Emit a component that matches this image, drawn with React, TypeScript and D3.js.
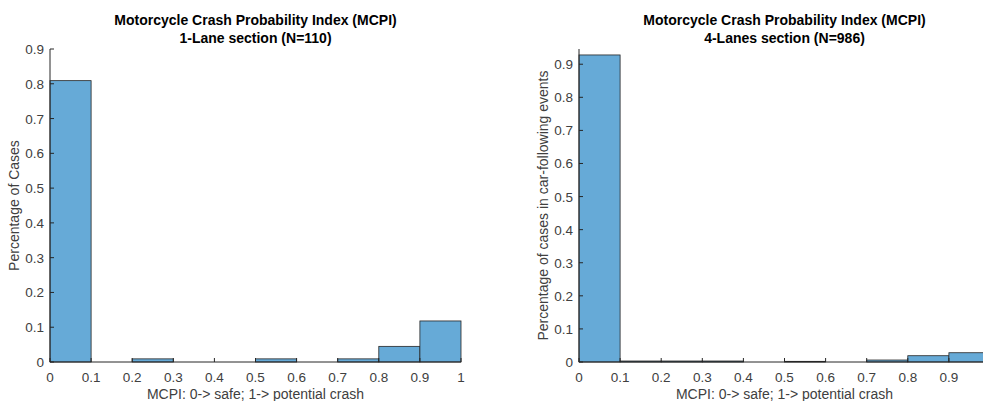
import React from "react";
import * as d3 from "d3";

const binEdges = [0, 0.1, 0.2, 0.3, 0.4, 0.5, 0.6, 0.7, 0.8, 0.9, 1.0];
const oneLaneValues = [0.809, 0, 0.009, 0, 0, 0.009, 0, 0.009, 0.045, 0.118];
const fourLaneValues = [0.928, 0.003, 0.003, 0.003, 0, 0.002, 0, 0.006, 0.019, 0.028];
const xTicks = [0, 0.1, 0.2, 0.3, 0.4, 0.5, 0.6, 0.7, 0.8, 0.9, 1];
const yTicks = [0, 0.1, 0.2, 0.3, 0.4, 0.5, 0.6, 0.7, 0.8, 0.9];
const titleLine1 = "Motorcycle Crash Probability Index (MCPI)";
const leftTitle2 = "1-Lane section (N=110)";
const rightTitle2 = "4-Lanes section (N=986)";
const xLabel = "MCPI: 0-> safe; 1-> potential crash";
const leftYLabel = "Percentage of Cases";
const rightYLabel = "Percentage of cases in car-following events";

const W = 983;
const H = 401;
const FONT = "'Liberation Sans', Arial, Helvetica, sans-serif";
const AXIS_COLOR = "#262626";
const TICK_TEXT = "#404040";
const FILL = "#66aad7";

type PanelProps = {
  x0: number;
  x1: number;
  yTop: number;
  yBottom: number;
  yMax: number;
  values: number[];
  title2: string;
  yLabel: string;
  yLabelX: number;
};

function Panel({ x0, x1, yTop, yBottom, yMax, values, title2, yLabel, yLabelX }: PanelProps) {
  const x = d3.scaleLinear().domain([0, 1]).range([x0, x1]);
  const y = d3.scaleLinear().domain([0, yMax]).range([yBottom, yTop]);
  const tickLen = 4;
  const cx = (x0 + x1) / 2;
  const cy = (yTop + yBottom) / 2;
  return (
    <g>
      {values.map((v, i) => (
        <rect
          key={i}
          x={x(binEdges[i])}
          y={y(v)}
          width={x(binEdges[i + 1]) - x(binEdges[i])}
          height={yBottom - y(v)}
          fill={FILL}
          stroke={AXIS_COLOR}
          strokeWidth={0.8}
        />
      ))}
      <line x1={x0} x2={x1} y1={yBottom} y2={yBottom} stroke={AXIS_COLOR} strokeWidth={1} />
      <line x1={x0} x2={x0} y1={yTop} y2={yBottom} stroke={AXIS_COLOR} strokeWidth={1} />
      {xTicks.map((t) => (
        <g key={"x" + t}>
          <line x1={x(t)} x2={x(t)} y1={yBottom} y2={yBottom - tickLen} stroke={AXIS_COLOR} strokeWidth={1} />
          {x(t) + 4 <= W ? (
            <text x={x(t)} y={yBottom + 20} textAnchor="middle" fontSize={13.5} fill={TICK_TEXT} fontFamily={FONT}>
              {String(t)}
            </text>
          ) : null}
        </g>
      ))}
      {yTicks.map((t) => (
        <g key={"y" + t}>
          <line x1={x0} x2={x0 + tickLen} y1={y(t)} y2={y(t)} stroke={AXIS_COLOR} strokeWidth={1} />
          <text x={x0 - 6} y={y(t) + 5} textAnchor="end" fontSize={13.5} fill={TICK_TEXT} fontFamily={FONT}>
            {String(t)}
          </text>
        </g>
      ))}
      <text x={cx} y={25} textAnchor="middle" fontSize={14} fontWeight="bold" fill="#000" fontFamily={FONT}>
        {titleLine1}
      </text>
      <text x={cx} y={43} textAnchor="middle" fontSize={14} fontWeight="bold" fill="#000" fontFamily={FONT}>
        {title2}
      </text>
      <text x={cx} y={399} textAnchor="middle" fontSize={14} fill={TICK_TEXT} fontFamily={FONT}>
        {xLabel}
      </text>
      <text
        x={yLabelX}
        y={cy}
        textAnchor="middle"
        fontSize={14}
        fill={TICK_TEXT}
        fontFamily={FONT}
        transform={`rotate(-90 ${yLabelX} ${cy})`}
      >
        {yLabel}
      </text>
    </g>
  );
}

export default function App() {
  return (
    <svg width={W} height={H} style={{ position: "absolute", left: 0, top: 0, background: "#fff" }}>
      <rect x={0} y={0} width={W} height={H} fill="#fff" />
      <Panel
        x0={50}
        x1={461}
        yTop={49}
        yBottom={362}
        yMax={0.9}
        values={oneLaneValues}
        title2={leftTitle2}
        yLabel={leftYLabel}
        yLabelX={19}
      />
      <Panel
        x0={579}
        x1={990}
        yTop={49}
        yBottom={362}
        yMax={0.946}
        values={fourLaneValues}
        title2={rightTitle2}
        yLabel={rightYLabel}
        yLabelX={548}
      />
    </svg>
  );
}
